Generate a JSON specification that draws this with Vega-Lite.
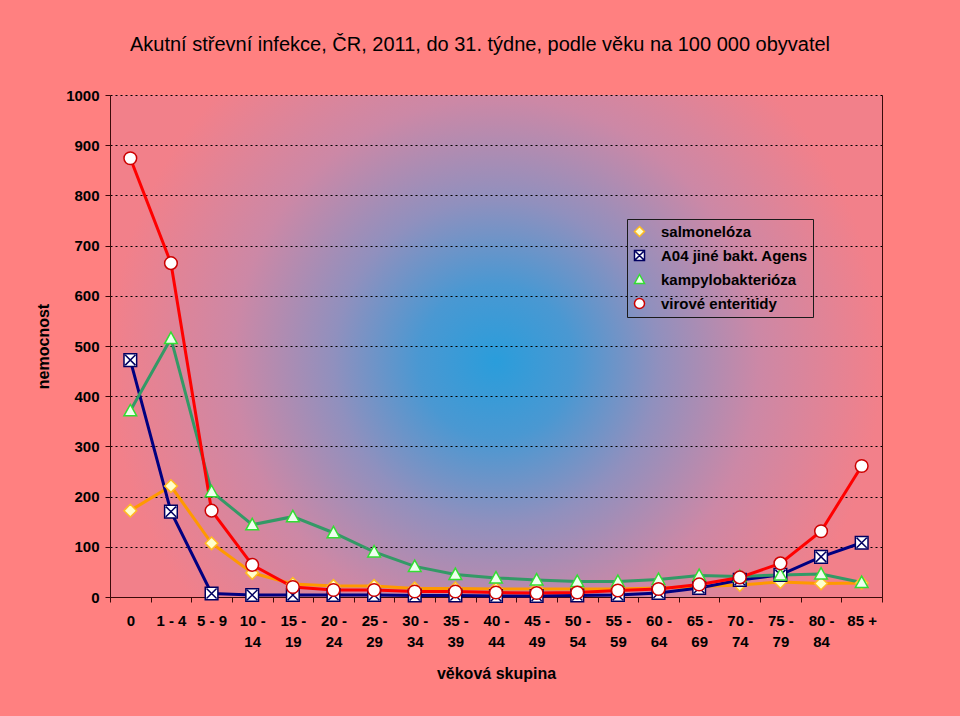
{
  "$schema": "https://vega.github.io/schema/vega-lite/v6.json",
  "width": 772,
  "height": 502,
  "autosize": {"type": "none"},
  "padding": {"left": 110, "top": 95, "right": 78, "bottom": 119},
  "background": "#FF8080",
  "title": {
    "text": "Akutní střevní infekce, ČR, 2011, do 31. týdne, podle věku na 100 000 obyvatel",
    "font": "Liberation Sans",
    "fontSize": 20,
    "fontWeight": "normal",
    "color": "#000000",
    "anchor": "middle",
    "dx": -16,
    "offset": 33
  },
  "config": {
    "font": "Liberation Sans",
    "view": {
      "stroke": null,
      "fill": {
        "gradient": "radial",
        "x1": 0.5, "y1": 0.52, "r1": 0,
        "x2": 0.5, "y2": 0.52, "r2": 0.5,
        "stops": [
          {"offset": 0, "color": "#2A9DDB"},
          {"offset": 0.2, "color": "#4A98D2"},
          {"offset": 0.42, "color": "#9090BE"},
          {"offset": 0.68, "color": "#CC88A6"},
          {"offset": 1, "color": "#F2808A"}
        ]
      }
    },
    "legend": {
      "title": null,
      "orient": "none",
      "legendX": 517,
      "legendY": 124,
      "padding": 5,
      "strokeColor": "#1A1A1A",
      "labelFont": "Liberation Sans",
      "labelFontSize": 15,
      "labelFontWeight": "bold",
      "labelColor": "#000000",
      "labelOffset": 14,
      "rowPadding": 7,
      "symbolSize": 100
    },
    "axis": {
      "domainColor": "#3A0A0A",
      "tickColor": "#3A0A0A",
      "labelColor": "#000000",
      "titleColor": "#000000",
      "labelFont": "Liberation Sans",
      "titleFont": "Liberation Sans"
    }
  },
  "data": {
    "values": [
      {"vek": "0", "nemoc": "salmonelóza", "hodnota": 172},
      {"vek": "1 - 4", "nemoc": "salmonelóza", "hodnota": 221},
      {"vek": "5 - 9", "nemoc": "salmonelóza", "hodnota": 107},
      {"vek": "10 - 14", "nemoc": "salmonelóza", "hodnota": 48},
      {"vek": "15 - 19", "nemoc": "salmonelóza", "hodnota": 26},
      {"vek": "20 - 24", "nemoc": "salmonelóza", "hodnota": 22},
      {"vek": "25 - 29", "nemoc": "salmonelóza", "hodnota": 22},
      {"vek": "30 - 34", "nemoc": "salmonelóza", "hodnota": 17},
      {"vek": "35 - 39", "nemoc": "salmonelóza", "hodnota": 17},
      {"vek": "40 - 44", "nemoc": "salmonelóza", "hodnota": 16},
      {"vek": "45 - 49", "nemoc": "salmonelóza", "hodnota": 16},
      {"vek": "50 - 54", "nemoc": "salmonelóza", "hodnota": 16},
      {"vek": "55 - 59", "nemoc": "salmonelóza", "hodnota": 16},
      {"vek": "60 - 64", "nemoc": "salmonelóza", "hodnota": 18},
      {"vek": "65 - 69", "nemoc": "salmonelóza", "hodnota": 21},
      {"vek": "70 - 74", "nemoc": "salmonelóza", "hodnota": 24},
      {"vek": "75 - 79", "nemoc": "salmonelóza", "hodnota": 30},
      {"vek": "80 - 84", "nemoc": "salmonelóza", "hodnota": 27},
      {"vek": "85 +", "nemoc": "salmonelóza", "hodnota": 28},
      {"vek": "0", "nemoc": "A04 jiné bakt. Agens", "hodnota": 472},
      {"vek": "1 - 4", "nemoc": "A04 jiné bakt. Agens", "hodnota": 170},
      {"vek": "5 - 9", "nemoc": "A04 jiné bakt. Agens", "hodnota": 7},
      {"vek": "10 - 14", "nemoc": "A04 jiné bakt. Agens", "hodnota": 4},
      {"vek": "15 - 19", "nemoc": "A04 jiné bakt. Agens", "hodnota": 4},
      {"vek": "20 - 24", "nemoc": "A04 jiné bakt. Agens", "hodnota": 4},
      {"vek": "25 - 29", "nemoc": "A04 jiné bakt. Agens", "hodnota": 4},
      {"vek": "30 - 34", "nemoc": "A04 jiné bakt. Agens", "hodnota": 3},
      {"vek": "35 - 39", "nemoc": "A04 jiné bakt. Agens", "hodnota": 3},
      {"vek": "40 - 44", "nemoc": "A04 jiné bakt. Agens", "hodnota": 2},
      {"vek": "45 - 49", "nemoc": "A04 jiné bakt. Agens", "hodnota": 2},
      {"vek": "50 - 54", "nemoc": "A04 jiné bakt. Agens", "hodnota": 3},
      {"vek": "55 - 59", "nemoc": "A04 jiné bakt. Agens", "hodnota": 4},
      {"vek": "60 - 64", "nemoc": "A04 jiné bakt. Agens", "hodnota": 8},
      {"vek": "65 - 69", "nemoc": "A04 jiné bakt. Agens", "hodnota": 18},
      {"vek": "70 - 74", "nemoc": "A04 jiné bakt. Agens", "hodnota": 34},
      {"vek": "75 - 79", "nemoc": "A04 jiné bakt. Agens", "hodnota": 44},
      {"vek": "80 - 84", "nemoc": "A04 jiné bakt. Agens", "hodnota": 80},
      {"vek": "85 +", "nemoc": "A04 jiné bakt. Agens", "hodnota": 108},
      {"vek": "0", "nemoc": "kampylobakterióza", "hodnota": 371},
      {"vek": "1 - 4", "nemoc": "kampylobakterióza", "hodnota": 515},
      {"vek": "5 - 9", "nemoc": "kampylobakterióza", "hodnota": 210},
      {"vek": "10 - 14", "nemoc": "kampylobakterióza", "hodnota": 144},
      {"vek": "15 - 19", "nemoc": "kampylobakterióza", "hodnota": 160},
      {"vek": "20 - 24", "nemoc": "kampylobakterióza", "hodnota": 128},
      {"vek": "25 - 29", "nemoc": "kampylobakterióza", "hodnota": 90},
      {"vek": "30 - 34", "nemoc": "kampylobakterióza", "hodnota": 61},
      {"vek": "35 - 39", "nemoc": "kampylobakterióza", "hodnota": 45},
      {"vek": "40 - 44", "nemoc": "kampylobakterióza", "hodnota": 38},
      {"vek": "45 - 49", "nemoc": "kampylobakterióza", "hodnota": 34},
      {"vek": "50 - 54", "nemoc": "kampylobakterióza", "hodnota": 31},
      {"vek": "55 - 59", "nemoc": "kampylobakterióza", "hodnota": 31},
      {"vek": "60 - 64", "nemoc": "kampylobakterióza", "hodnota": 35},
      {"vek": "65 - 69", "nemoc": "kampylobakterióza", "hodnota": 43},
      {"vek": "70 - 74", "nemoc": "kampylobakterióza", "hodnota": 41},
      {"vek": "75 - 79", "nemoc": "kampylobakterióza", "hodnota": 44},
      {"vek": "80 - 84", "nemoc": "kampylobakterióza", "hodnota": 46},
      {"vek": "85 +", "nemoc": "kampylobakterióza", "hodnota": 29},
      {"vek": "0", "nemoc": "virové enteritidy", "hodnota": 874},
      {"vek": "1 - 4", "nemoc": "virové enteritidy", "hodnota": 665},
      {"vek": "5 - 9", "nemoc": "virové enteritidy", "hodnota": 172},
      {"vek": "10 - 14", "nemoc": "virové enteritidy", "hodnota": 64},
      {"vek": "15 - 19", "nemoc": "virové enteritidy", "hodnota": 20},
      {"vek": "20 - 24", "nemoc": "virové enteritidy", "hodnota": 14},
      {"vek": "25 - 29", "nemoc": "virové enteritidy", "hodnota": 14},
      {"vek": "30 - 34", "nemoc": "virové enteritidy", "hodnota": 11},
      {"vek": "35 - 39", "nemoc": "virové enteritidy", "hodnota": 11},
      {"vek": "40 - 44", "nemoc": "virové enteritidy", "hodnota": 9},
      {"vek": "45 - 49", "nemoc": "virové enteritidy", "hodnota": 8},
      {"vek": "50 - 54", "nemoc": "virové enteritidy", "hodnota": 9},
      {"vek": "55 - 59", "nemoc": "virové enteritidy", "hodnota": 13},
      {"vek": "60 - 64", "nemoc": "virové enteritidy", "hodnota": 16},
      {"vek": "65 - 69", "nemoc": "virové enteritidy", "hodnota": 25},
      {"vek": "70 - 74", "nemoc": "virové enteritidy", "hodnota": 39},
      {"vek": "75 - 79", "nemoc": "virové enteritidy", "hodnota": 67},
      {"vek": "80 - 84", "nemoc": "virové enteritidy", "hodnota": 131},
      {"vek": "85 +", "nemoc": "virové enteritidy", "hodnota": 261}
    ]
  },
  "resolve": {"axis": {"y": "independent"}},
  "layer": [
    {
      "mark": {"type": "line", "strokeWidth": 3},
      "encoding": {
        "x": {
          "field": "vek",
          "type": "nominal",
          "sort": ["0", "1 - 4", "5 - 9", "10 - 14", "15 - 19", "20 - 24", "25 - 29", "30 - 34", "35 - 39", "40 - 44", "45 - 49", "50 - 54", "55 - 59", "60 - 64", "65 - 69", "70 - 74", "75 - 79", "80 - 84", "85 +"],
          "scale": {"type": "band", "paddingInner": 0, "paddingOuter": 0},
          "axis": {
            "title": "věková skupina",
            "titleFontSize": 16,
            "titleFontWeight": "bold",
            "titlePadding": 16,
            "labelFontSize": 15,
            "labelFontWeight": "bold",
            "labelAngle": 0,
            "labelOverlap": false,
            "labelExpr": "length(datum.label) > 6 ? [substring(datum.label, 0, 4), substring(datum.label, 5)] : datum.label",
            "labelLineHeight": 21,
            "labelPadding": 11,
            "tickBand": "extent",
            "tickSize": 5,
            "grid": false
          }
        },
        "y": {
          "field": "hodnota",
          "type": "quantitative",
          "scale": {"domain": [0, 1000], "nice": false},
          "axis": {
            "title": "nemocnost",
            "titleFontSize": 16,
            "titleFontWeight": "bold",
            "titlePadding": 14,
            "values": [0, 100, 200, 300, 400, 500, 600, 700, 800, 900, 1000],
            "format": "d",
            "labelFontSize": 15,
            "labelFontWeight": "bold",
            "labelPadding": 6,
            "tickSize": 5,
            "grid": true,
            "gridColor": "#000000",
            "gridDash": [2, 3],
            "gridWidth": 1
          }
        },
        "color": {
          "field": "nemoc",
          "type": "nominal",
          "scale": {
            "domain": ["virové enteritidy", "kampylobakterióza", "A04 jiné bakt. Agens", "salmonelóza"],
            "range": ["#FF0000", "#339966", "#000080", "#FF9900"]
          },
          "legend": null
        }
      }
    },
    {
      "mark": {"type": "point", "filled": true, "size": 160, "strokeWidth": 1.5, "opacity": 1},
      "encoding": {
        "x": {
          "field": "vek",
          "type": "nominal",
          "sort": ["0", "1 - 4", "5 - 9", "10 - 14", "15 - 19", "20 - 24", "25 - 29", "30 - 34", "35 - 39", "40 - 44", "45 - 49", "50 - 54", "55 - 59", "60 - 64", "65 - 69", "70 - 74", "75 - 79", "80 - 84", "85 +"],
          "scale": {"type": "band", "paddingInner": 0, "paddingOuter": 0}
        },
        "y": {
          "field": "hodnota",
          "type": "quantitative",
          "scale": {"domain": [0, 1000], "nice": false},
          "axis": {"orient": "right", "title": null, "labels": false, "ticks": false, "grid": false, "domain": true}
        },
        "shape": {
          "field": "nemoc",
          "type": "nominal",
          "scale": {
            "domain": ["salmonelóza", "A04 jiné bakt. Agens", "kampylobakterióza", "virové enteritidy"],
            "range": ["diamond", "M-1,-1H1V1H-1Z M-0.8,-0.8L0.8,0.8 M0.8,-0.8L-0.8,0.8", "M0,-1L1,0.8H-1Z", "circle"]
          },
          "legend": {
            "encode": {
              "symbols": {
                "shape": {"value": {"expr": "datum.value === 'salmonelóza' ? 'M-3,0H-1M1,0H3M-1,0L0,-1L1,0L0,1Z' : datum.value === 'A04 jiné bakt. Agens' ? 'M-3,0H-1M1,0H3M-1,-1H1V1H-1ZM-0.8,-0.8L0.8,0.8M0.8,-0.8L-0.8,0.8' : datum.value === 'kampylobakterióza' ? 'M-3,0H-0.56M0.56,0H3M0,-1L1,0.8H-1Z' : 'M-3,0H-1M1,0H3M-1,0A1,1 0 1,1 1,0A1,1 0 1,1 -1,0Z'"}},
                "stroke": {"value": {"expr": "datum.value === 'salmonelóza' ? '#FF9900' : datum.value === 'A04 jiné bakt. Agens' ? '#000080' : datum.value === 'kampylobakterióza' ? '#339966' : '#FF0000'"}},
                "fill": {"value": {"expr": "datum.value === 'salmonelóza' ? '#FFFFCC' : datum.value === 'kampylobakterióza' ? '#CCFFCC' : '#FFFFFF'"}},
                "strokeWidth": {"value": 2.5},
                "opacity": {"value": 1}
              }
            }
          }
        },
        "fill": {
          "field": "nemoc",
          "type": "nominal",
          "scale": {
            "domain": ["salmonelóza", "A04 jiné bakt. Agens", "kampylobakterióza", "virové enteritidy"],
            "range": ["#FFFFCC", "#FFFFFF", "#EEFFEE", "#FFFFFF"]
          },
          "legend": {
            "encode": {
              "symbols": {
                "shape": {"value": {"expr": "datum.value === 'salmonelóza' ? 'M-3,0H-1M1,0H3M-1,0L0,-1L1,0L0,1Z' : datum.value === 'A04 jiné bakt. Agens' ? 'M-3,0H-1M1,0H3M-1,-1H1V1H-1ZM-0.8,-0.8L0.8,0.8M0.8,-0.8L-0.8,0.8' : datum.value === 'kampylobakterióza' ? 'M-3,0H-0.56M0.56,0H3M0,-1L1,0.8H-1Z' : 'M-3,0H-1M1,0H3M-1,0A1,1 0 1,1 1,0A1,1 0 1,1 -1,0Z'"}},
                "stroke": {"value": {"expr": "datum.value === 'salmonelóza' ? '#FF9900' : datum.value === 'A04 jiné bakt. Agens' ? '#000080' : datum.value === 'kampylobakterióza' ? '#339966' : '#FF0000'"}},
                "fill": {"value": {"expr": "datum.value === 'salmonelóza' ? '#FFFFCC' : datum.value === 'kampylobakterióza' ? '#CCFFCC' : '#FFFFFF'"}},
                "strokeWidth": {"value": 2.5},
                "opacity": {"value": 1}
              }
            }
          }
        },
        "stroke": {
          "field": "nemoc",
          "type": "nominal",
          "scale": {
            "domain": ["salmonelóza", "A04 jiné bakt. Agens", "kampylobakterióza", "virové enteritidy"],
            "range": ["#FFBB22", "#000060", "#33DD33", "#CC0000"]
          },
          "legend": {
            "encode": {
              "symbols": {
                "shape": {"value": {"expr": "datum.value === 'salmonelóza' ? 'M-3,0H-1M1,0H3M-1,0L0,-1L1,0L0,1Z' : datum.value === 'A04 jiné bakt. Agens' ? 'M-3,0H-1M1,0H3M-1,-1H1V1H-1ZM-0.8,-0.8L0.8,0.8M0.8,-0.8L-0.8,0.8' : datum.value === 'kampylobakterióza' ? 'M-3,0H-0.56M0.56,0H3M0,-1L1,0.8H-1Z' : 'M-3,0H-1M1,0H3M-1,0A1,1 0 1,1 1,0A1,1 0 1,1 -1,0Z'"}},
                "stroke": {"value": {"expr": "datum.value === 'salmonelóza' ? '#FF9900' : datum.value === 'A04 jiné bakt. Agens' ? '#000080' : datum.value === 'kampylobakterióza' ? '#339966' : '#FF0000'"}},
                "fill": {"value": {"expr": "datum.value === 'salmonelóza' ? '#FFFFCC' : datum.value === 'kampylobakterióza' ? '#CCFFCC' : '#FFFFFF'"}},
                "strokeWidth": {"value": 2.5},
                "opacity": {"value": 1}
              }
            }
          }
        }
      }
    }
  ]
}
